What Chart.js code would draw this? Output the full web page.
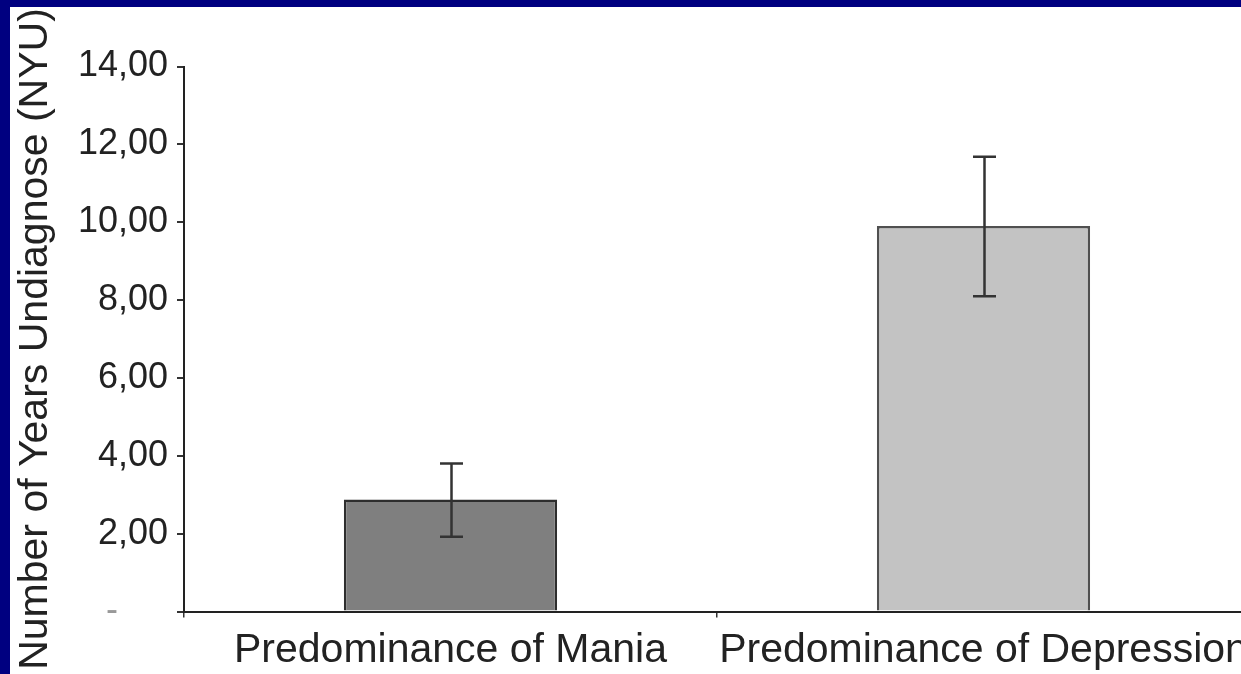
<!DOCTYPE html>
<html>
<head>
<meta charset="utf-8">
<script src="https://cdn.jsdelivr.net/npm/chart.js@4"></script>
<style>
  html, body { margin: 0; padding: 0; background: #000080; width: 1241px; height: 674px; overflow: hidden; }
  #wrap { position: absolute; left: 10px; top: 7px; width: 1231px; height: 667px; background: #ffffff; overflow: hidden; }
  canvas { display: block; }
</style>
</head>
<body>
<div id="wrap"><canvas id="c" width="1240" height="667"></canvas></div>
<script>
// Years undiagnosed by illness polarity, with error bar limits
const categories = ['Predominance of Mania', 'Predominance of Depression'];
const meanYears = [2.88, 9.9];
const errLow = [1.92, 8.1];
const errHigh = [3.8, 11.68];
const yTickLabels = ['-     ', '2,00', '4,00', '6,00', '8,00', '10,00', '12,00', '14,00'];

const FONT = '"Liberation Sans", Arial, Helvetica, sans-serif';
const INK = '#222222';

// Error bars drawn through the value scale
const errorBars = {
  id: 'errorBars',
  afterDatasetsDraw(chart) {
    const ctx = chart.ctx;
    const y = chart.scales.y;
    const meta = chart.getDatasetMeta(0);
    ctx.save();
    ctx.strokeStyle = '#333333';
    ctx.lineWidth = 2.5;
    meta.data.forEach((bar, i) => {
      const x = bar.x + 1;
      const yHi = y.getPixelForValue(errHigh[i]);
      const yLo = y.getPixelForValue(errLow[i]);
      const cap = 11.5;
      ctx.beginPath();
      ctx.moveTo(x, yHi); ctx.lineTo(x, yLo);
      ctx.moveTo(x - cap, yHi); ctx.lineTo(x + cap, yHi);
      ctx.moveTo(x - cap, yLo); ctx.lineTo(x + cap, yLo);
      ctx.stroke();
    });
    ctx.restore();
  }
};

new Chart(document.getElementById('c'), {
  type: 'bar',
  data: {
    labels: categories,
    datasets: [{
      data: meanYears,
      backgroundColor: ['#7f7f7f', '#c3c3c3'],
      borderColor: ['#2e2e2e', '#505050'],
      borderWidth: 2.5,
      barPercentage: 0.4,
      categoryPercentage: 1.0
    }]
  },
  options: {
    responsive: false,
    animation: false,
    devicePixelRatio: 1,
    layout: { padding: { top: 59.5, right: 0, bottom: 0, left: 0 } },
    plugins: { legend: { display: false }, tooltip: { enabled: false } },
    scales: {
      x: {
        offset: true,
        grid: { display: true, drawOnChartArea: false, drawTicks: true, tickLength: 6, color: '#333333', lineWidth: 1.5, offset: true },
        border: { display: true, color: '#222222', width: 2 },
        ticks: {
          autoSkip: false, maxRotation: 0, minRotation: 0, padding: 9,
          color: INK, font: { family: FONT, size: 41 }
        },
        afterFit(scale) { scale.height = 62.5; scale.paddingLeft = 0; scale.paddingRight = 0; }
      },
      y: {
        min: 0, max: 14,
        grid: { display: true, drawOnChartArea: false, drawTicks: true, tickLength: 7, color: '#333333', lineWidth: 2 },
        border: { display: true, color: '#222222', width: 2 },
        ticks: {
          stepSize: 2, padding: 9,
          color: (c) => (c.index === 0 ? '#999999' : INK),
          font: { family: FONT, size: 36 },
          callback: (v, i) => yTickLabels[i]
        },
        title: {
          display: true,
          text: 'Number of Years Undiagnose (NYU)',
          color: INK,
          font: { family: FONT, size: 41, lineHeight: 1.27 },
          padding: { top: 0, bottom: 0 }
        },
        afterFit(scale) { scale.width = 174; }
      }
    }
  },
  plugins: [errorBars]
});
</script>
</body>
</html>
